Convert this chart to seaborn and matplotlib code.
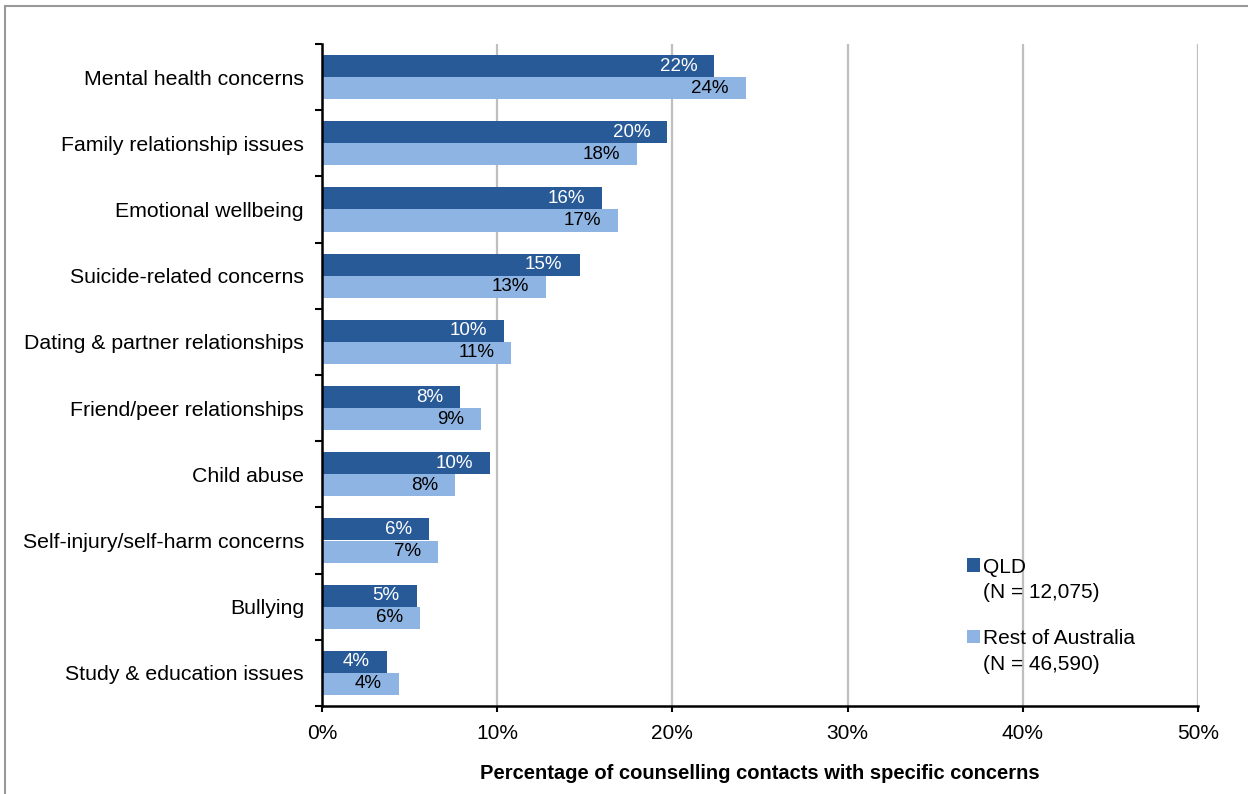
import pandas as pd
import seaborn as sns
import matplotlib.pyplot as plt
from matplotlib.patches import Rectangle
from matplotlib.ticker import FixedLocator, PercentFormatter

concerns = [
    "Mental health concerns",
    "Family relationship issues",
    "Emotional wellbeing",
    "Suicide-related concerns",
    "Dating & partner relationships",
    "Friend/peer relationships",
    "Child abuse",
    "Self-injury/self-harm concerns",
    "Bullying",
    "Study & education issues",
]
qld = [22.4, 19.7, 16.0, 14.7, 10.4, 7.9, 9.6, 6.1, 5.4, 3.7]
rest = [24.2, 18.0, 16.9, 12.8, 10.8, 9.1, 7.6, 6.6, 5.6, 4.4]
regions = ["QLD\n(N = 12,075)", "Rest of Australia\n(N = 46,590)"]
colors = ["#285A98", "#8EB4E3"]
label_colors = ["white", "black"]

data = pd.DataFrame({
    "concern": concerns * 2,
    "pct": qld + rest,
    "region": [regions[0]] * len(qld) + [regions[1]] * len(rest),
})

sns.set_style("white")
plt.rcParams["font.family"] = ["Liberation Sans", "DejaVu Sans"]
plt.rcParams["text.color"] = "black"
plt.rcParams["xtick.color"] = "black"
plt.rcParams["ytick.color"] = "black"
plt.rcParams["axes.labelcolor"] = "black"

fig = plt.figure(figsize=(12.48, 7.94), dpi=100)
ax = fig.add_axes([322 / 1248, 1 - 706 / 794, 876 / 1248, 662 / 794])

sns.barplot(data, y="concern", x="pct", hue="region", hue_order=regions,
            palette=colors, orient="h", width=0.67, saturation=1, ax=ax,
            edgecolor="none")

# value labels inside the bar ends
for cont, tc in zip(ax.containers, label_colors):
    for bar in cont:
        w = bar.get_width()
        yc = bar.get_y() + bar.get_height() / 2
        ax.annotate(f"{w:.0f}%", (w, yc), xytext=(-17, 0), textcoords="offset pixels",
                    ha="right", va="center", color=tc, fontsize=13.5)

ax.set_xlim(0, 50)
ax.set_ylim(len(concerns) - 0.5, -0.5)
ax.xaxis.set_major_locator(FixedLocator([0, 10, 20, 30, 40, 50]))
ax.xaxis.set_major_formatter(PercentFormatter(decimals=0))
ax.grid(axis="x", color="#BFBFBF", lw=1.6)
ax.set_axisbelow(True)

ax.yaxis.set_minor_locator(FixedLocator([i - 0.5 for i in range(len(concerns) + 1)]))
ax.tick_params(axis="y", which="major", length=0, labelsize=15.3, pad=13)
ax.tick_params(axis="y", which="minor", length=5, width=1.5, direction="out", left=True)
ax.tick_params(axis="x", which="major", length=4, width=1.5, direction="out",
               bottom=True, labelsize=15, pad=9)

for s in ["top", "right"]:
    ax.spines[s].set_visible(False)
for s in ["left", "bottom"]:
    ax.spines[s].set_color("black")
    ax.spines[s].set_linewidth(1.8)

ax.set_ylabel("")
ax.set_xlabel("Percentage of counselling contacts with specific concerns",
              fontsize=14.5, fontweight="bold", labelpad=15)

leg = ax.legend(loc="upper left", bbox_to_anchor=(957 / 1248, 1 - 548 / 794),
                bbox_transform=fig.transFigure, frameon=False, fontsize=15,
                handlelength=0.6, handleheight=0.6, handletextpad=0.15,
                labelspacing=1.3, borderpad=0)
for t in leg.get_texts():
    t.set_linespacing(1.4)
for col in leg._legend_handle_box.get_children():
    for row in col.get_children():
        row.align = "top"

fig.patches.append(Rectangle((5 / 1248, -0.1), 2, 1.1 - 6 / 794,
                             transform=fig.transFigure, fill=False,
                             edgecolor="#999999", lw=1.5))

fig.savefig("out.png", dpi=100)
